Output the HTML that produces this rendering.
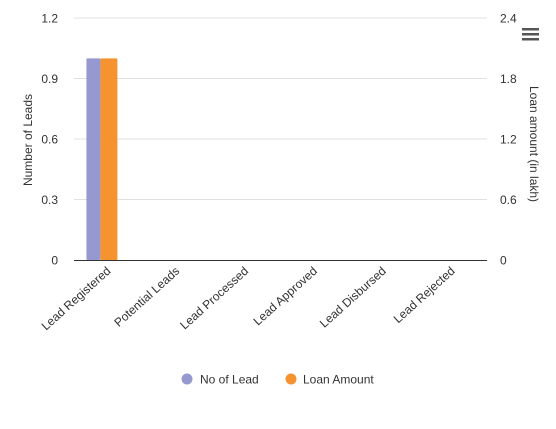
<!DOCTYPE html>
<html><head><meta charset="utf-8"><style>
body{margin:0;background:#fff;font-family:"Liberation Sans",Arial,sans-serif}
svg text{font-family:"Liberation Sans",Arial,sans-serif}
</style></head><body>
<svg id="c" width="556" height="424">
<g id="grid"></g><g id="bars"></g><g id="axes"></g>
<text x="0" y="0" transform="translate(32,140) rotate(-90)" text-anchor="middle" font-size="12" fill="#333">Number of Leads</text>
<text x="0" y="0" transform="translate(530,144) rotate(90)" text-anchor="middle" font-size="12" fill="#333">Loan amount (in lakh)</text>
<g><rect x="522" y="28" width="17" height="2.5" fill="#555"/><rect x="522" y="33" width="17" height="2.5" fill="#555"/><rect x="522" y="38" width="17" height="2.5" fill="#555"/></g>
<g><circle cx="187" cy="379" r="5.5" fill="#9599d0"/><text x="200" y="383.5" font-size="12" fill="#333">No of Lead</text></g>
<g><circle cx="291" cy="379" r="5.5" fill="#f59331"/><text x="303" y="383.5" font-size="12" fill="#333">Loan Amount</text></g>
</svg>
<script>
const categories=["Lead Registered","Potential Leads","Lead Processed","Lead Approved","Lead Disbursed","Lead Rejected"];
const leads=[1,0,0,0,0,0];
const loan=[2,0,0,0,0,0];
const leftTicks=[0,0.3,0.6,0.9,1.2];
const rightTicks=[0,0.6,1.2,1.8,2.4];
const NS="http://www.w3.org/2000/svg";
const X0=74,X1=487,Y0=260,Y1=18;
const yL=v=>Y0-(v/1.2)*(Y0-Y1);
const yR=v=>Y0-(v/2.4)*(Y0-Y1);
const bw=(X1-X0)/categories.length;
function mk(t,a,p){const e=document.createElementNS(NS,t);for(const k in a)e.setAttribute(k,a[k]);p.appendChild(e);return e;}
const grid=document.getElementById('grid'),bars=document.getElementById('bars'),axes=document.getElementById('axes');
leftTicks.forEach((v,i)=>{
 if(v>0){const l=mk('line',{x1:X0,x2:X1,y1:yL(v),y2:yL(v),stroke:'#e0e0e0'},grid);
 
 }
 const t=mk('text',{x:58,y:yL(v)+4.5,'text-anchor':'end','font-size':12,fill:'#333'},axes);t.textContent=v;
 
 
});
rightTicks.forEach(v=>{
 const t=mk('text',{x:500,y:yR(v)+4.5,'font-size':12,fill:'#333'},axes);t.textContent=v;
 
 
});
const base=mk('line',{x1:X0,x2:X1,y1:Y0+0.5,y2:Y0+0.5,stroke:'#333'},axes);


categories.forEach((c,i)=>{
 const cx=X0+bw*(i+0.5);
 if(leads[i]>0){const r=mk('rect',{x:cx-22,y:yL(leads[i]),width:14,height:Y0-yL(leads[i]),fill:'#9599d0',rx:1},bars);
 
 }
 if(loan[i]>0){const r=mk('rect',{x:cx-8,y:yR(loan[i]),width:17,height:Y0-yR(loan[i]),fill:'#f59331',rx:1},bars);
 
 }
 const t=mk('text',{x:0,y:0,'text-anchor':'end','font-size':12,fill:'#333',transform:`translate(${cx+3},${Y0+12}) rotate(-42)`},axes);
 t.textContent=c;
 
 
});
</script>
</body></html>
